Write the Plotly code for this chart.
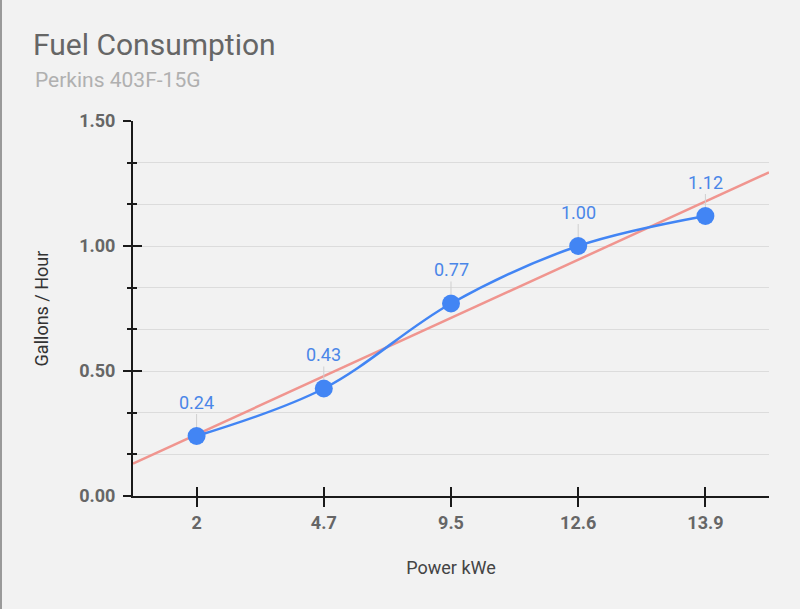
import numpy as np
import plotly.graph_objects as go

# ---- data ----
categories = ["2", "4.7", "9.5", "12.6", "13.9"]
gallons_per_hour = [0.24, 0.43, 0.77, 1.00, 1.12]
y_tick_values = [0, 0.5, 1.0, 1.5]
y_tick_labels = ["0.00", "0.50", "1.00", "1.50"]

title_text = "Fuel Consumption"
subtitle_text = "Perkins 403F-15G"
x_title = "Power kWe"
y_title = "Gallons / Hour"

# ---- styles ----
BLUE = "#4285F4"
TREND = "#F0958F"
BG = "#F2F2F2"
GRID = "#DCDCDC"
AXIS = "#1a1a1a"
FONT = "Roboto"

idx = list(range(len(categories)))
x_range = [-0.5, len(categories) - 0.5]

# linear trendline (least squares over category index)
slope, intercept = np.polyfit(idx, gallons_per_hour, 1)
trend_x = x_range
trend_y = [slope * x + intercept for x in trend_x]

fig = go.Figure()

fig.add_trace(go.Scatter(
    x=trend_x, y=trend_y, mode="lines",
    line=dict(color=TREND, width=2.5),
    hoverinfo="skip", showlegend=False, cliponaxis=True,
))

fig.add_trace(go.Scatter(
    x=idx, y=gallons_per_hour, mode="lines+markers",
    line=dict(color=BLUE, width=2.5, shape="spline", smoothing=1.0),
    marker=dict(color=BLUE, size=18),
    showlegend=False, cliponaxis=False,
))

# invisible trace to anchor overlay axes (crossing ticks)
fig.add_trace(go.Scatter(
    x=idx, y=gallons_per_hour, xaxis="x2", yaxis="y2",
    mode="markers", marker=dict(opacity=0), hoverinfo="skip", showlegend=False,
))

for i, v in zip(idx, gallons_per_hour):
    fig.add_annotation(
        x=i, y=v, text=f"{v:.2f}", showarrow=True, arrowhead=0,
        arrowwidth=1, arrowcolor="#CFCFCF", ax=0, ay=-34, standoff=9,
        font=dict(family=FONT, size=18, color="#4A86E8"),
    )

# subtitle
fig.add_annotation(
    text=subtitle_text, xref="paper", yref="paper",
    x=(33 - 133) / 636, y=(496 - 80) / 375, xanchor="left", yanchor="middle",
    showarrow=False, font=dict(family=FONT, size=21, color="#B0B0B0"),
)

# left frame border
fig.add_shape(type="line", xref="paper", yref="paper",
              x0=(1 - 133) / 636, x1=(1 - 133) / 636, y0=-113 / 375, y1=1 + 121 / 375,
              line=dict(color="#9A9A9A", width=2))

tick_font = dict(family=FONT, size=18, color="#666666", weight="bold")

fig.update_layout(
    width=800, height=609,
    margin=dict(l=133, r=31, t=121, b=113),
    paper_bgcolor=BG, plot_bgcolor=BG,
    font=dict(family=FONT),
    title=dict(
        text=title_text, x=33 / 800, xanchor="left", xref="container",
        y=1 - 44 / 609, yanchor="middle", yref="container",
        font=dict(family=FONT, size=30, color="#666666"),
    ),
    xaxis=dict(
        range=x_range, tickmode="array", tickvals=idx, ticktext=categories,
        showgrid=False, zeroline=False,
        showline=True, linecolor=AXIS, linewidth=2,
        ticks="outside", ticklen=9, tickwidth=2, tickcolor=AXIS,
        tickfont=tick_font,
        title=dict(text=x_title, font=dict(family=FONT, size=18, color="#444444"), standoff=30),
    ),
    xaxis2=dict(
        overlaying="x", matches="x", range=x_range, tickmode="array", tickvals=idx,
        showticklabels=False, showgrid=False, zeroline=False, showline=False,
        ticks="inside", ticklen=9, tickwidth=2, tickcolor=AXIS,
    ),
    yaxis=dict(
        range=[0, 1.5], tickmode="array", tickvals=y_tick_values, ticktext=y_tick_labels,
        showgrid=True, gridcolor=GRID, gridwidth=1, zeroline=False,
        showline=True, linecolor=AXIS, linewidth=2,
        ticks="outside", ticklen=8, tickwidth=2, tickcolor=AXIS,
        tickfont=tick_font, ticklabelstandoff=4,
        minor=dict(dtick=1 / 6, tick0=0, ticks="outside", ticklen=4, tickwidth=2,
                   tickcolor=AXIS, showgrid=True, gridcolor=GRID, gridwidth=1),
        title=dict(text=y_title, font=dict(family=FONT, size=18, color="#333333"), standoff=26),
    ),
    yaxis2=dict(
        overlaying="y", matches="y", range=[0, 1.5], tickmode="array", tickvals=y_tick_values,
        showticklabels=False, showgrid=False, zeroline=False, showline=False,
        ticks="inside", ticklen=9, tickwidth=2, tickcolor=AXIS,
        minor=dict(dtick=1 / 6, tick0=0, ticks="inside", ticklen=4, tickwidth=2,
                   tickcolor=AXIS, showgrid=False),
    ),
)

fig.write_html("out.html")
